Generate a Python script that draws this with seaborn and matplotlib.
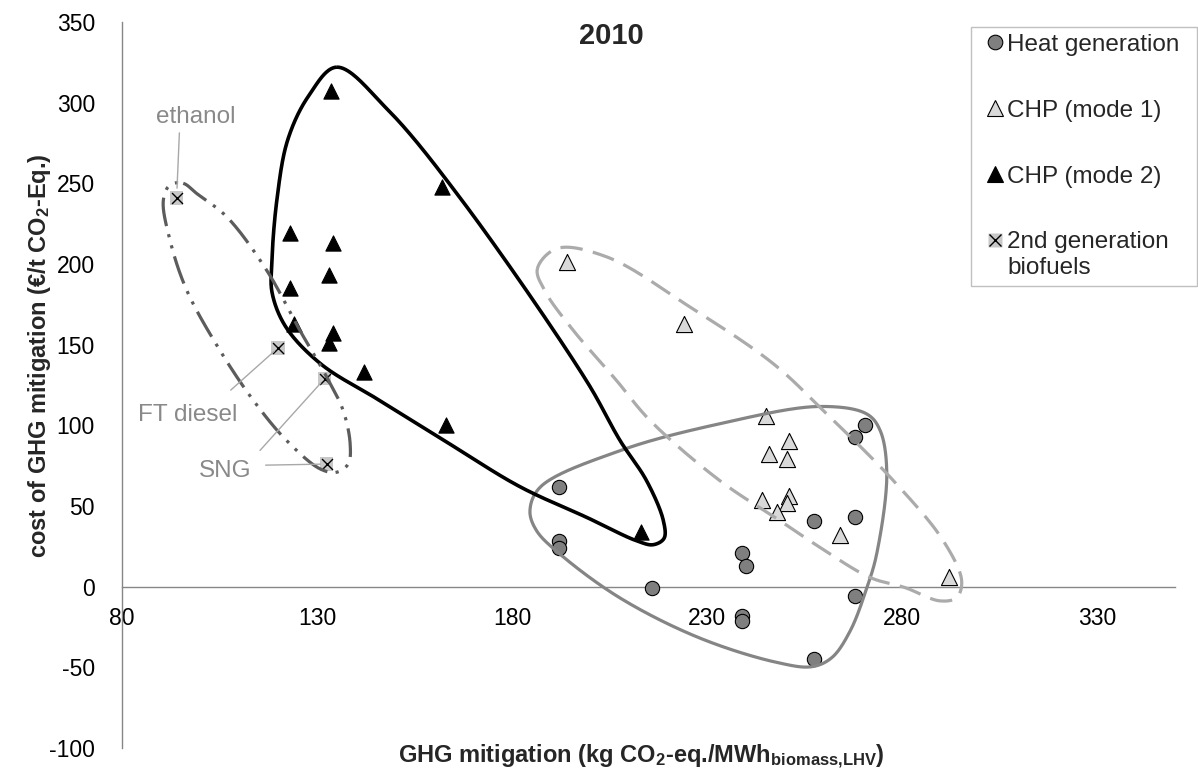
import numpy as np
import matplotlib
matplotlib.use("Agg")
import matplotlib.pyplot as plt
import seaborn as sns
from matplotlib.lines import Line2D
from matplotlib.legend_handler import HandlerTuple
from matplotlib.transforms import Affine2D

# ---- data: GHG mitigation (x) vs cost of mitigation (y), 2010 ----
heat_x = [192, 192, 192, 216, 239, 240, 239, 239, 257.5, 268, 270.5, 268, 268, 257.5]
heat_y = [62, 28, 24, -1, 21, 13, -18, -21, 41, 43, 100, 93, -6, -45]

chp1_x = [194, 224, 245, 251, 246, 250.5, 244, 251, 250.5, 248, 264, 292]
chp1_y = [201, 163, 106, 90, 82, 79, 54, 56, 52, 46, 32, 6]

chp2_x = [133.5, 162, 123, 134, 133, 123, 124, 134, 133, 142, 163, 213]
chp2_y = [307, 248, 219, 213, 193, 185, 163, 157, 151, 133, 100, 34]

bio_x = [94, 120, 132, 132.5]
bio_y = [241, 148, 129, 76]
bio_names = ["ethanol", "FT diesel", "SNG", "SNG"]

legend_labels = ["Heat generation", "CHP (mode 1)", "CHP (mode 2)",
                 "2nd generation\nbiofuels"]

x_ticks = [80, 130, 180, 230, 280, 330]
y_ticks = [-100, -50, 0, 50, 100, 150, 200, 250, 300, 350]

# hand-drawn group outlines (data units)
outline_heat = [(187.2, 61.6), (207.7, 84.3), (233.3, 101), (259, 111.7), (271, 107),
                (274.4, 96.8), (276.1, 69.9), (273.5, 20.2), (271, -0.6), (266.7, -27.5),
                (262, -44), (256.9, -49.6), (248, -47), (228.2, -31.9), (207.7, -7),
                (192.3, 20.2), (186.3, 34.7), (184.6, 47)]
outline_chp1 = [(186.5, 197), (191.5, 209.6), (204.3, 204.4), (225.6, 173.4), (247, 138.2),
                (259.8, 109.2), (277.8, 65.7), (290.6, 28.4), (295.3, 3.6), (294, -6.8),
                (289.7, -8.8), (280.8, -0.6), (271.8, 5.7), (259, 24.3), (248.7, 40.9),
                (233.3, 65.7), (215.4, 103), (206.8, 127.8), (195.7, 158.9), (188.5, 183)]
outline_chp2 = [(135, 322), (148, 296), (167, 240), (199, 128), (207.7, 90.6), (214.5, 65.7),
                (218.8, 41), (219, 30), (216.2, 26), (212, 28.4), (199.2, 42.9), (182, 62),
                (164, 88.5), (146, 115.5), (131, 138), (122, 161), (118.5, 182),
                (118.4, 200), (119.7, 239.5), (122.5, 277), (127.8, 304)]
outline_bio = [(95.7, 250), (99.1, 243.8), (106.8, 229.4), (117.1, 196.1), (125.6, 158.9),
               (132.5, 129.9), (136.7, 109.2), (138.5, 88.5), (138, 76.1), (135, 70.9),
               (130.8, 73), (122.2, 90.6), (113.7, 115.4), (105.1, 146.5), (96.6, 183.7),
               (92.3, 214.8), (90.6, 239.6), (92.3, 249)]

# ---- styling ----
sns.set_theme(style="white")
plt.rcParams["font.family"] = ["Liberation Sans", "DejaVu Sans"]
plt.rcParams["axes.unicode_minus"] = False
plt.rcParams["mathtext.fontset"] = "custom"
plt.rcParams["mathtext.rm"] = "Liberation Sans:bold"
plt.rcParams["mathtext.bf"] = "Liberation Sans:bold"
plt.rcParams["mathtext.it"] = "Liberation Sans:bold"

AXIS_GREY = "#868686"
fig = plt.figure(figsize=(11.98, 7.74), dpi=100)
ax = fig.add_axes([0.10184, 0.03359, 0.87896, 0.93798])
ax.set_xlim(80, 350)
ax.set_ylim(-100, 350)

for side in ("top", "right"):
    ax.spines[side].set_visible(False)
ax.spines["bottom"].set_position(("data", 0))
for side in ("left", "bottom"):
    ax.spines[side].set_color(AXIS_GREY)
    ax.spines[side].set_linewidth(1.0)

ax.set_xticks(x_ticks)
ax.set_yticks(y_ticks)
ax.tick_params(axis="both", direction="out", length=5.5, width=1.0, color=AXIS_GREY,
               labelsize=16.5, labelcolor="black")
ax.tick_params(axis="x", pad=9)
ax.tick_params(axis="y", pad=14)

# ---- markers ----
sns.scatterplot(x=heat_x, y=heat_y, marker="o", s=106, color="#7f7f7f",
                edgecolor="black", linewidth=0.8, legend=False, ax=ax, zorder=3)
sns.scatterplot(x=chp1_x, y=chp1_y, marker="^", s=135, color="#d9d9d9",
                edgecolor="black", linewidth=0.8, legend=False, ax=ax, zorder=3)
sns.scatterplot(x=chp2_x, y=chp2_y, marker="^", s=120, color="black",
                edgecolor="black", linewidth=0.8, legend=False, ax=ax, zorder=3)
sns.scatterplot(x=bio_x, y=bio_y, marker="s", s=92, color="#c8c8c8",
                edgecolor="none", linewidth=0, legend=False, ax=ax, zorder=3)
sns.scatterplot(x=bio_x, y=bio_y, marker="x", s=62, color="black",
                linewidth=1.0, legend=False, ax=ax, zorder=3)


# ---- smooth closed outlines ----
def closed_spline(pts, n=40):
    """Centripetal Catmull-Rom curve through the points, closed."""
    P = np.asarray(pts, float)
    m = len(P)
    segs = []
    for i in range(m):
        p0, p1, p2, p3 = P[(i - 1) % m], P[i], P[(i + 1) % m], P[(i + 2) % m]
        t0 = 0.0
        t1 = t0 + np.linalg.norm(p1 - p0) ** 0.5
        t2 = t1 + np.linalg.norm(p2 - p1) ** 0.5
        t3 = t2 + np.linalg.norm(p3 - p2) ** 0.5
        t = np.linspace(t1, t2, n, endpoint=False)[:, None]
        a1 = (t1 - t) / (t1 - t0) * p0 + (t - t0) / (t1 - t0) * p1
        a2 = (t2 - t) / (t2 - t1) * p1 + (t - t1) / (t2 - t1) * p2
        a3 = (t3 - t) / (t3 - t2) * p2 + (t - t2) / (t3 - t2) * p3
        b1 = (t2 - t) / (t2 - t0) * a1 + (t - t0) / (t2 - t0) * a2
        b2 = (t3 - t) / (t3 - t1) * a2 + (t - t1) / (t3 - t1) * a3
        segs.append((t2 - t) / (t2 - t1) * b1 + (t - t1) / (t2 - t1) * b2)
    c = np.vstack(segs)
    return np.vstack([c, c[:1]])


def draw_outline(pts, **kw):
    disp = ax.transData.transform(np.asarray(pts, float))
    curve = ax.transData.inverted().transform(closed_spline(disp))
    ax.plot(curve[:, 0], curve[:, 1], zorder=4, solid_capstyle="butt",
            dash_capstyle="butt", **kw)


draw_outline(outline_heat, color="#858585", lw=2.3)
draw_outline(outline_chp1, color="#ababab", lw=2.3, linestyle=(0, (7.0, 3.3)))
draw_outline(outline_chp2, color="black", lw=2.6)
draw_outline(outline_bio, color="#5c5c5c", lw=2.3, linestyle=(0, (9.0, 2.6, 1.0, 2.6, 1.0, 2.6)))

# ---- labels for the biofuel points ----
ANN_TXT = "#898989"
ANN_LINE = "#a8a8a8"
ann_kw = dict(textcoords="data", ha="center", va="center", fontsize=17.5, zorder=6)
ax.annotate(bio_names[0], xy=(bio_x[0], bio_y[0]), xytext=(98.85, 291.4), color=ANN_TXT,
            arrowprops=dict(arrowstyle="-", color=ANN_LINE, lw=1, relpos=(0.3, 0),
                            shrinkA=1.5, shrinkB=7), **ann_kw)
ax.annotate(bio_names[1], xy=(bio_x[1], bio_y[1]), xytext=(96.87, 106.1), color=ANN_TXT,
            arrowprops=dict(arrowstyle="-", color=ANN_LINE, lw=1, relpos=(0.77, 1),
                            shrinkA=12, shrinkB=3.7), **ann_kw)
ax.annotate(bio_names[2], xy=(bio_x[2], bio_y[2]), xytext=(106.5, 71.9), color=ANN_TXT,
            arrowprops=dict(arrowstyle="-", color=ANN_LINE, lw=1, relpos=(1, 1),
                            shrinkA=5.8, shrinkB=4.5), **ann_kw)
ax.annotate(bio_names[3], xy=(bio_x[3], bio_y[3]), xytext=(106.5, 71.9), color="none",
            arrowprops=dict(arrowstyle="-", color=ANN_LINE, lw=1, relpos=(1, 0.74),
                            shrinkA=7.7, shrinkB=4.8), **ann_kw)

# ---- axis titles ----
ax.set_xlabel(r"GHG mitigation (kg CO$_\mathbf{2}$-eq./MWh$_\mathbf{biomass{,}LHV}$)",
              fontsize=17, fontweight="bold")
ax.xaxis.set_label_coords(0.4934, -0.0124)
ax.xaxis.label.set_va("center")
ax.set_ylabel(r"cost of GHG mitigation (€/t CO$_\mathbf{2}$-Eq.)",
              fontsize=17, fontweight="bold")
ax.yaxis.set_label_coords(-0.078, 0.541)
ax.yaxis.label.set_va("center")

fig.suptitle("2010", x=611 / 1198, y=1 - 36 / 774, va="center",
             fontsize=21, fontweight="bold")


# ---- legend ----
class RaisedTupleHandler(HandlerTuple):
    """Tuple handler whose symbol sits on the first line of a two-line label."""

    def __init__(self, raise_pt=0.0, **kw):
        super().__init__(**kw)
        self.raise_pt = raise_pt

    def create_artists(self, legend, orig_handle, xdescent, ydescent, width, height,
                       fontsize, trans):
        artists = super().create_artists(legend, orig_handle, xdescent, ydescent,
                                         width, height, fontsize, trans)
        shift = Affine2D().translate(0, self.raise_pt)
        for a in artists:
            a.set_transform(shift + trans)
        return artists


h_heat = Line2D([], [], ls="none", marker="o", ms=10.5, mfc="#7f7f7f", mec="black", mew=0.8)
h_chp1 = Line2D([], [], ls="none", marker="^", ms=11, mfc="#d9d9d9", mec="black", mew=0.8)
h_chp2 = Line2D([], [], ls="none", marker="^", ms=11, mfc="black", mec="black", mew=0.8)
h_bio_sq = Line2D([], [], ls="none", marker="s", ms=10, mfc="#c8c8c8", mec="none")
h_bio_x = Line2D([], [], ls="none", marker="x", ms=8.0, mec="black", mew=1.0)

leg = ax.legend(handles=[h_heat, h_chp1, h_chp2, (h_bio_sq, h_bio_x)],
                labels=legend_labels,
                handler_map={tuple: RaisedTupleHandler(raise_pt=10.5, ndivide=1)},
                loc="upper left",
                bbox_to_anchor=(971 / 1198, 1 - 284 / 774, 226 / 1198, (284 - 26.7) / 774),
                bbox_transform=fig.transFigure, mode="expand", borderaxespad=0,
                fontsize=17.5, frameon=True, fancybox=False, edgecolor="#c0c0c0",
                framealpha=1, borderpad=0.3, labelspacing=1.8, handlelength=1.4,
                handletextpad=-0.22)
leg.get_frame().set_linewidth(1.0)
leg.set_zorder(10)

fig.savefig("out.png", dpi=100)
